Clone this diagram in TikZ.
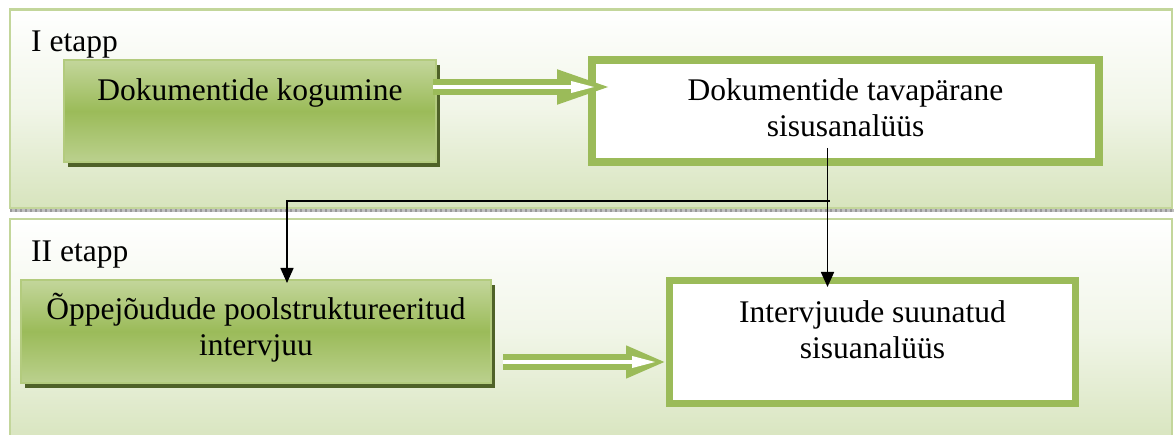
\documentclass[tikz,border=0pt]{standalone}
\usepackage{fontspec}
\setmainfont{Liberation Serif}
\usepackage{tikz}
\usetikzlibrary{arrows.meta,calc,positioning,shadows}
\definecolor{accgreen}{HTML}{9BBB59}
\definecolor{lightgreen}{HTML}{C3D69B}
\definecolor{palegreen}{HTML}{D7E4BD}
\definecolor{darkgreen}{HTML}{4F6228}
\definecolor{edgegreen}{HTML}{B3CB7E}
\tikzset{
	stage/.style={draw=lightgreen, line width=2.5pt,
		top color=white, bottom color=palegreen, middle color=palegreen!35},
	stage name/.style={anchor=base west, inner sep=0pt},
	task/.style={draw=edgegreen, line width=2pt, align=center, inner sep=0pt,
		top color=lightgreen, bottom color=lightgreen!80!accgreen, middle color=accgreen,
		drop shadow={shadow xshift=4pt, shadow yshift=-5pt, fill=darkgreen, opacity=1}},
	result/.style={draw=accgreen, fill=white, align=center, inner sep=0pt},
	flow/.style={draw=black, line width=1.6pt, -{Triangle[length=15pt,width=13pt]}},
	pipe out/.style={draw=accgreen, line width=16pt, -{Triangle[length=#1,width=30pt]}},
	pipe in/.style={draw=white, line width=3.5pt, shorten >=#1, -{Triangle[length=24pt,width=11pt]}},
	separator/.style={line width=3pt, gray!80, dash pattern=on 2pt off 3pt}
}

\begin{document}
\begin{tikzpicture}[x=1pt, y=-1pt, font=\fontsize{31.5pt}{36pt}\selectfont]
   \useasboundingbox (0,0) rectangle (1174,435);
   \clip (0,0) rectangle (1174,435);
   % the two stages
   \draw[stage] (10,9.5) rectangle (1172,208);
   \draw[stage] (10,219) rectangle (1172,445);
   \draw[line width=3pt, gray!50] (10,211) -- (1174,211);
   \draw[separator] (10,211) -- (1174,211);
   \node[stage name] (st1) at (31,52) {I etapp};
   \node[stage name] (st2) at (31,262) {II etapp};

   \node[task, minimum width=372pt, minimum height=102pt, text depth=43.5pt] (kog) at (250,111) {Dokumentide kogumine};
   \node[result, line width=8pt, minimum width=507pt, minimum height=102pt, text depth=6.5pt] (tav) at (845.5,111) {Dokumentide tavapärane\\sisusanalüüs};
   \node[task, minimum width=470pt, minimum height=103pt, text depth=14pt] (poo) at (256,331.5) {Õppejõudude poolstruktureeritud\\intervjuu};
   \node[result, line width=7pt, minimum width=406pt, minimum height=123pt, text depth=25.5pt] (int) at (872.5,342) {Intervjuude suunatud\\sisuanalüüs};

   \draw[pipe out=58pt] ([xshift=-4pt,yshift=24pt]kog.east) -- ([xshift=27pt,yshift=24pt]tav.west);
   \draw[pipe in=20pt] ([xshift=-4pt,yshift=24pt]kog.east) -- ([xshift=27pt,yshift=24pt]tav.west);
   \draw[pipe out=40pt] ([xshift=11pt,yshift=-30.5pt]poo.east) -- ([yshift=-20pt]int.west);
   \draw[pipe in=10pt] ([xshift=11pt,yshift=-30.5pt]poo.east) -- ([yshift=-20pt]int.west);

   \coordinate (fork) at ([xshift=-18pt,yshift=18pt]tav.south);
   \coordinate (junc) at ([xshift=2pt]fork |- 0,201);
   \draw[flow, shorten >=-10pt] (fork) -- (fork |- int.north);
   \draw[flow, shorten >=-4pt] (junc) -| ([xshift=31pt]poo.north);
\end{tikzpicture}
\end{document}
